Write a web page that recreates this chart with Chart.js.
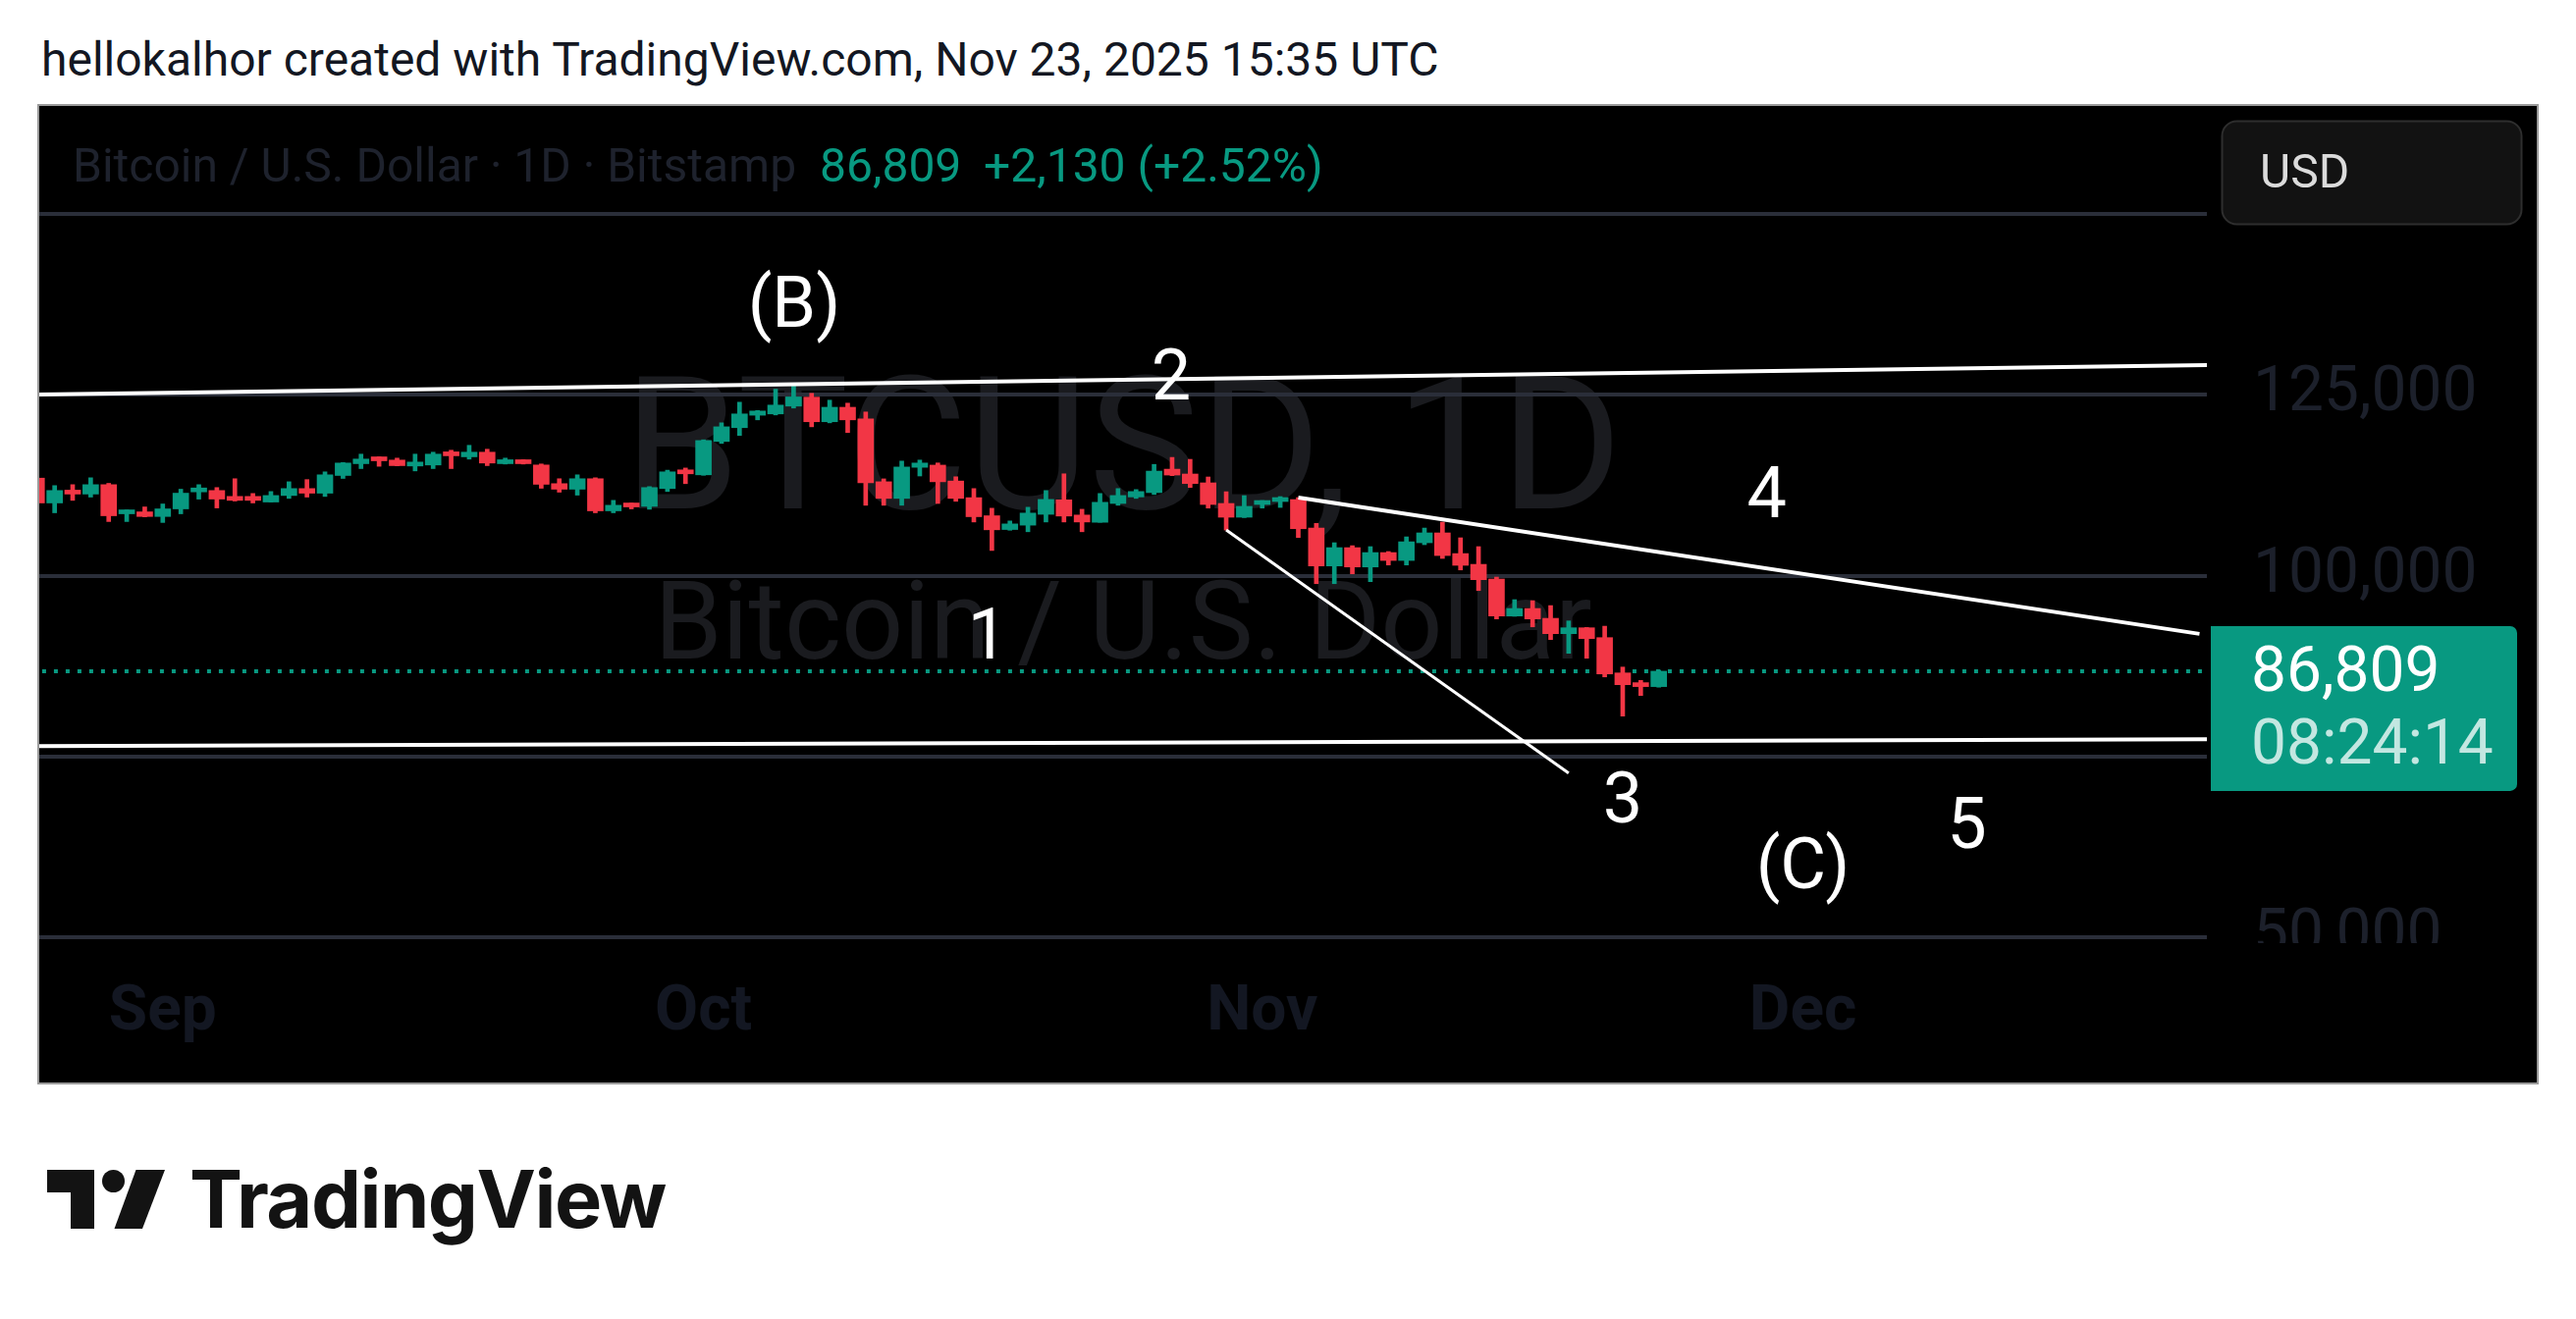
<!DOCTYPE html>
<html>
<head>
<meta charset="utf-8">
<title>BTCUSD 1D</title>
<script src="https://cdn.jsdelivr.net/npm/chart.js@4.4.1/dist/chart.umd.min.js"></script>
<style>
  html, body { margin: 0; padding: 0; background: #fff; }
  body { width: 2624px; height: 1344px; position: relative; overflow: hidden; font-family: Roboto, sans-serif; }
  #title { position: absolute; left: 42px; top: 37px; font-size: 48px; line-height: 48px; color: #131722; white-space: nowrap; }
  #panel { position: absolute; left: 40px; top: 108px; width: 2544px; height: 995px; background: #000; outline: 2px solid #9a9a9a; }
  #panel canvas { position: absolute; left: 0; top: 0; }
  #logo { position: absolute; left: 0; top: 0; }
  #logoText { position: absolute; left: 193px; top: 1181px; font-family: Inter, sans-serif; font-weight: 700; font-size: 81px; line-height: 82px; letter-spacing: -1.5px; color: #131313; white-space: nowrap; }
</style>
</head>
<body>
<div id="title">hellokalhor created with TradingView.com, Nov 23, 2025 15:35 UTC</div>
<div id="panel"><canvas id="chart" width="2544" height="995"></canvas></div>
<svg id="logo" width="700" height="1344" viewBox="0 0 700 1344">
  <path d="M48 1192 H96 V1252 H72 V1215 H48 Z" fill="#131313"/>
  <circle cx="115.5" cy="1203.5" r="11.5" fill="#131313"/>
  <path d="M138.5 1192 H168 L145 1252 H116.5 Z" fill="#131313"/>
</svg>
<div id="logoText">TradingView</div>

<script>
// daily candles, Bitstamp BTCUSD
const dates = [
  '2025-08-25','2025-08-26','2025-08-27','2025-08-28','2025-08-29','2025-08-30','2025-08-31',
  '2025-09-01','2025-09-02','2025-09-03','2025-09-04','2025-09-05','2025-09-06','2025-09-07',
  '2025-09-08','2025-09-09','2025-09-10','2025-09-11','2025-09-12','2025-09-13','2025-09-14',
  '2025-09-15','2025-09-16','2025-09-17','2025-09-18','2025-09-19','2025-09-20','2025-09-21',
  '2025-09-22','2025-09-23','2025-09-24','2025-09-25','2025-09-26','2025-09-27','2025-09-28',
  '2025-09-29','2025-09-30','2025-10-01','2025-10-02','2025-10-03','2025-10-04','2025-10-05',
  '2025-10-06','2025-10-07','2025-10-08','2025-10-09','2025-10-10','2025-10-11','2025-10-12',
  '2025-10-13','2025-10-14','2025-10-15','2025-10-16','2025-10-17','2025-10-18','2025-10-19',
  '2025-10-20','2025-10-21','2025-10-22','2025-10-23','2025-10-24','2025-10-25','2025-10-26',
  '2025-10-27','2025-10-28','2025-10-29','2025-10-30','2025-10-31','2025-11-01','2025-11-02',
  '2025-11-03','2025-11-04','2025-11-05','2025-11-06','2025-11-07','2025-11-08','2025-11-09',
  '2025-11-10','2025-11-11','2025-11-12','2025-11-13','2025-11-14','2025-11-15','2025-11-16',
  '2025-11-17','2025-11-18','2025-11-19','2025-11-20','2025-11-21','2025-11-22','2025-11-23'
];
const opens = [
  113500,110070,111790,111300,112600,108570,108840,
  108200,109250,111600,111790,110970,110970,110200,
  111100,112060,111420,113870,115500,116400,116000,
  115180,115320,117090,116450,117090,115500,116000,
  115320,112740,111970,113420,108980,110020,109600,
  112060,114640,113960,118570,120480,122200,122380,
  123460,124700,121300,123300,121700,113000,110700,
  115000,115300,113100,110800,108300,106400,107000,
  108500,110500,108400,107400,110000,110900,111500,
  114740,114070,112850,110000,108100,109860,110270,
  110540,106600,101360,103890,101220,103210,102120,
  104570,105930,103070,101580,99550,94440,95480,
  94120,92000,92810,91450,86570,85210,84680
];
const highs = [
  113650,112470,112600,113550,112780,109100,109520,
  109930,111970,112600,112200,113420,111380,111650,
  113000,113300,114370,115650,116820,116450,116270,
  116820,117090,117360,118040,117500,116270,116050,
  115460,113420,113960,113550,110430,110050,112330,
  114600,114900,118800,121150,124000,122850,125800,
  126270,125230,124280,123870,122650,113400,115860,
  116000,115600,113690,112060,109340,107580,109480,
  111790,114100,109200,111380,112060,111920,115400,
  116370,116100,113660,111620,111080,110400,110950,
  110810,107240,104570,104160,104030,103350,105380,
  106600,107420,105250,104030,99820,96700,96560,
  95880,93760,92850,93030,87380,85530,86940
];
const lows = [
  109800,108710,110430,110880,107500,107500,108150,
  107370,108570,110600,109380,110340,110070,110200,
  110700,110880,110970,113460,114820,115140,115200,
  114500,114820,114820,116130,115230,115450,115450,
  112100,111560,111150,108710,108710,109250,109200,
  111650,112740,113900,118300,119400,121560,122240,
  123190,120600,121150,119800,109750,109750,109750,
  113800,110000,110300,107440,103500,106300,106090,
  107440,107440,106090,107400,109750,110700,111240,
  113840,112210,109360,106330,108050,109360,109450,
  105290,98910,98910,100270,99190,101490,101490,
  104300,102400,100810,97960,94030,94400,92940,
  91180,89280,88600,86020,80600,83450,84600
];
const closes = [
  110070,111790,111300,112600,108300,109070,108200,
  109250,111420,112060,110610,110430,110430,111100,
  112060,111420,113960,115590,116140,115900,115230,
  115720,116820,116590,117090,115590,116000,115500,
  112650,111970,113420,108980,109750,109520,112200,
  114370,114100,118700,120600,122380,122780,123600,
  124730,121300,123300,121560,112870,110700,115040,
  115590,113000,110700,108170,106360,107170,108670,
  110560,108260,107440,110160,111100,111650,114470,
  113930,112750,109860,108100,109600,110270,110670,
  106510,101360,103890,101220,103210,102120,104700,
  105930,102800,101450,99460,94440,95480,94030,
  92000,92810,91320,86430,84940,84680,86809
];

// axes
const monthStarts = ['2025-09-01','2025-10-01','2025-11-01','2025-12-01'];
const monthLabels = ['Sep','Oct','Nov','Dec'];
const priceTicks = [50000, 75000, 100000, 125000, 150000];
const hiddenPriceLabels = [150000];

// wave drawings (date, price)
const lineADates = ['2025-08-25','2025-12-24'];
const lineAPrices = [125056, 129152];
const lineBDates = ['2025-08-25','2025-12-24'];
const lineBPrices = [76444, 77400];
const lineCDates = ['2025-11-03','2025-12-23'];
const lineCPrices = [110814, 91970];
const lineDDates = ['2025-10-30','2025-11-18'];
const lineDPrices = [106337, 72727];
const waveLabels = ['(B)','2','1','3','4','5','(C)'];
const waveDates = [35.03, 55.95, 45.76, 81.0, 89.0, 100.09, 91.0]; // days from Sep 1
const wavePrices = [134423, 124423, 88562, 65902, 108141, 62374, 56812];

const UP = '#089981', DOWN = '#f23645';
const SEP1 = Date.UTC(2025, 8, 1);
const dayOf = s => (Date.parse(s + 'T00:00:00Z') - SEP1) / 86400000;
const lastClose = closes[closes.length - 1];
const candleColors = closes.map((c, i) => c >= opens[i] ? UP : DOWN);

function trend(ds, ps, width) {
  return {
    type: 'line', order: 0, borderColor: '#ffffff', borderWidth: width,
    pointRadius: 0, fill: false, tension: 0,
    data: ds.map((d, i) => ({ x: dayOf(d), y: ps[i] }))
  };
}

const decor = {
  id: 'decor',
  beforeDraw(chart) {
    const ctx = chart.ctx, a = chart.chartArea;
    ctx.save();
    ctx.beginPath(); ctx.rect(a.left, a.top, a.right - a.left, a.bottom - a.top); ctx.clip();
    ctx.textAlign = 'center';
    ctx.textBaseline = 'alphabetic';
    ctx.fillStyle = '#1a1b1f';
    const cx = (a.left + a.right) / 2;
    ctx.font = '190px Roboto';
    ctx.fillText('BTCUSD, 1D', cx, 410);
    ctx.font = '111px Roboto';
    ctx.fillText('Bitcoin / U.S. Dollar', cx, 563);
    ctx.restore();

    ctx.save();
    ctx.font = '48px Roboto';
    ctx.textAlign = 'left';
    ctx.textBaseline = 'alphabetic';
    ctx.fillStyle = '#1e222d';
    ctx.fillText('Bitcoin / U.S. Dollar · 1D · Bitstamp', 34, 77);
    ctx.fillStyle = UP;
    ctx.fillText(lastClose.toLocaleString('en-US'), 795, 77);
    ctx.fillText('+2,130 (+2.52%)', 962, 77);
    ctx.restore();
  },
  afterDatasetsDraw(chart) {
    const ctx = chart.ctx, x = chart.scales.x, y = chart.scales.y;
    ctx.save();
    ctx.fillStyle = '#ffffff';
    ctx.font = '72px Roboto';
    ctx.textAlign = 'center';
    ctx.textBaseline = 'alphabetic';
    waveLabels.forEach((t, i) => {
      ctx.fillText(t, x.getPixelForValue(waveDates[i]), y.getPixelForValue(wavePrices[i]));
    });
    ctx.restore();
  },
  afterDraw(chart) {
    const ctx = chart.ctx, a = chart.chartArea, y = chart.scales.y;
    ctx.save();
    // price scale is clipped at the time axis
    ctx.fillStyle = '#000';
    ctx.fillRect(a.right, a.bottom, chart.width - a.right, chart.height - a.bottom);

    // currency button
    ctx.beginPath();
    ctx.roundRect(2223.5, 15.5, 305, 105, 15);
    ctx.fillStyle = '#121212';
    ctx.fill();
    ctx.lineWidth = 2;
    ctx.strokeStyle = '#2e2e2e';
    ctx.stroke();
    ctx.fillStyle = '#dbdbdb';
    ctx.font = '48px Roboto';
    ctx.textAlign = 'left';
    ctx.textBaseline = 'alphabetic';
    ctx.fillText('USD', 2262, 83);

    // last price badge
    const py = y.getPixelForValue(lastClose);
    ctx.beginPath();
    ctx.roundRect(2212, py - 46, 312, 168, [0, 7, 7, 0]);
    ctx.fillStyle = UP;
    ctx.fill();
    ctx.font = '64px Roboto';
    ctx.fillStyle = '#ffffff';
    ctx.fillText(lastClose.toLocaleString('en-US'), 2253, py + 20);
    ctx.fillStyle = 'rgba(255,255,255,0.76)';
    ctx.fillText('08:24:14', 2253, py + 94);
    ctx.restore();
  }
};

new Chart(document.getElementById('chart'), {
  type: 'bar',
  data: {
    datasets: [
      trend(lineADates, lineAPrices, 4),
      trend(lineBDates, lineBPrices, 4),
      trend(lineCDates, lineCPrices, 4),
      trend(lineDDates, lineDPrices, 3),
      {
        type: 'bar', order: 1, grouped: false, barThickness: 16, minBarLength: 4,
        backgroundColor: candleColors, borderWidth: 0,
        data: dates.map((d, i) => ({ x: dayOf(d), y: [opens[i], closes[i]] }))
      },
      {
        type: 'bar', order: 2, grouped: false, barThickness: 4,
        backgroundColor: candleColors, borderWidth: 0,
        data: dates.map((d, i) => ({ x: dayOf(d), y: [lows[i], highs[i]] }))
      },
      {
        type: 'line', order: 3, borderColor: UP, borderWidth: 4, borderDash: [4, 8],
        pointRadius: 0, fill: false,
        data: [{ x: -8, y: lastClose }, { x: 113.3, y: lastClose }]
      }
    ]
  },
  options: {
    responsive: false,
    animation: false,
    devicePixelRatio: 1,
    layout: { padding: 0 },
    plugins: { legend: { display: false }, tooltip: { enabled: false } },
    scales: {
      x: {
        type: 'linear', offset: false, min: -6.852, max: 113.41,
        grid: { display: false }, border: { display: false },
        afterBuildTicks: s => { s.ticks = monthStarts.map(d => ({ value: dayOf(d) })); },
        afterFit: s => { s.height = 142; s.paddingLeft = 0; s.paddingRight = 0; },
        ticks: {
          autoSkip: false, maxRotation: 0, padding: 26,
          color: '#131722', font: { family: 'Roboto', size: 64, weight: 'bold' },
          callback: (v, i) => monthLabels[i]
        }
      },
      y: {
        type: 'linear', position: 'right', min: 49213, max: 164953,
        grid: { color: '#2a2e39', lineWidth: 4, drawTicks: false }, border: { display: false },
        afterBuildTicks: s => { s.ticks = priceTicks.map(v => ({ value: v })); },
        afterFit: s => { s.width = 336; s.paddingTop = 0; s.paddingBottom = 0; },
        ticks: {
          padding: 47, color: '#1c202b', font: { family: 'Roboto', size: 64 },
          callback: v => hiddenPriceLabels.includes(v) ? '' : v.toLocaleString('en-US')
        }
      }
    }
  },
  plugins: [decor]
});
</script>
</body>
</html>
